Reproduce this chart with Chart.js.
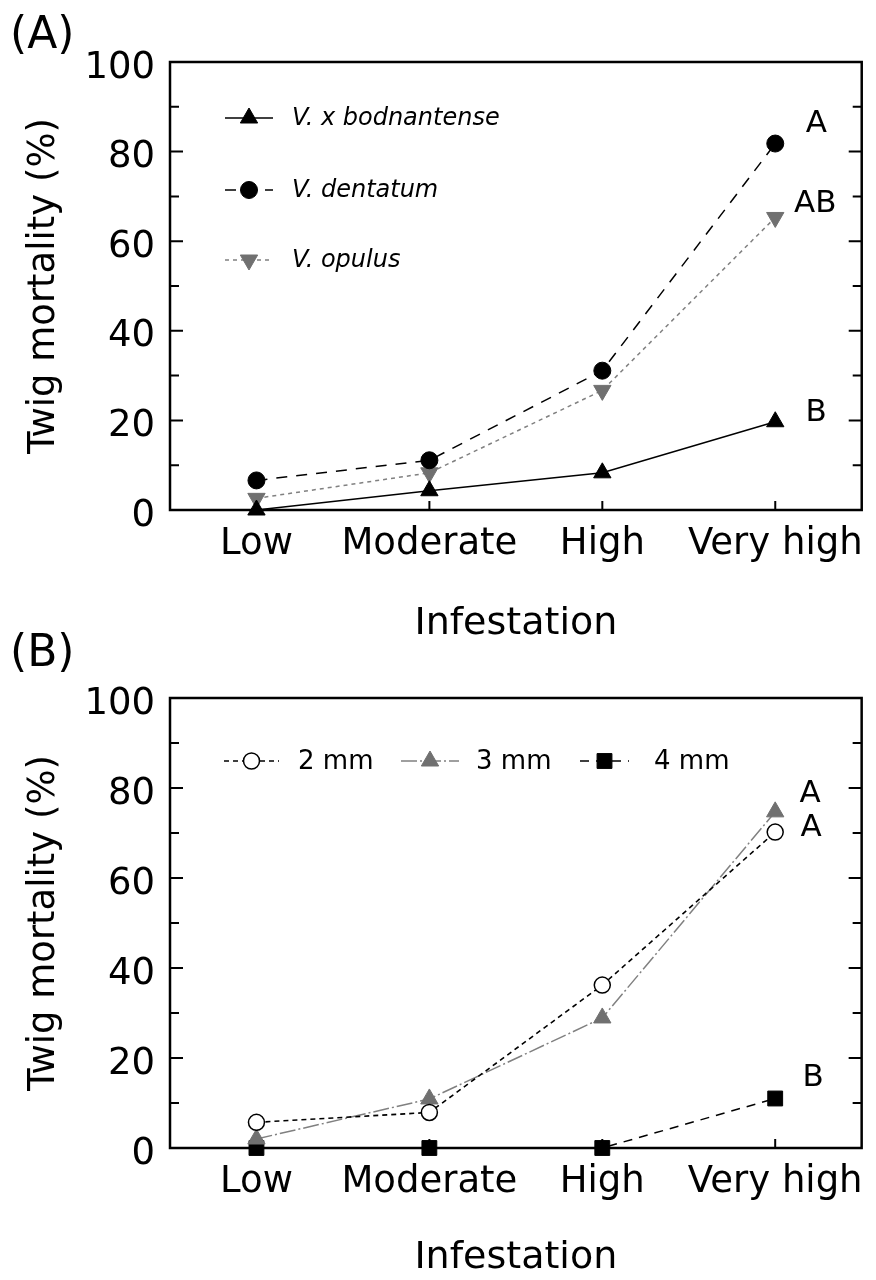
<!DOCTYPE html>
<html><head><meta charset="utf-8">
<script src="https://cdn.jsdelivr.net/npm/chart.js@4.4.1/dist/chart.umd.min.js"></script>
<style>
html,body{margin:0;padding:0;background:#fff;width:876px;height:1280px;overflow:hidden;}
.panel{position:absolute;left:0;width:876px;height:660px;}
#wrapA{top:0;}
#wrapB{top:620px;}
</style></head><body>
<div id="wrapA" class="panel"><canvas id="chartA" width="876" height="660"></canvas></div>
<div id="wrapB" class="panel"><canvas id="chartB" width="876" height="660"></canvas></div>
<script>
// ---- data ----
const categories = ['Low', 'Moderate', 'High', 'Very high'];
const yTickValues = [0, 20, 40, 60, 80, 100];
// Panel A: species
const bodnantense = [0, 4.3, 8.3, 19.7];
const dentatum = [6.6, 11.1, 31.1, 81.8];
const opulus = [2.6, 8.3, 26.7, 65.3];
const lettersA = ['B', 'A', 'AB'];
// Panel B: twig diameter
const mm2 = [5.7, 7.9, 36.2, 70.2];
const mm3 = [2.0, 10.9, 28.9, 74.7];
const mm4 = [0, 0, 0, 11.0];
const lettersB = ['A', 'A', 'B'];

const FONT = 'DejaVu Sans';
const BLACK = '#000000';
const GRAY = '#707070';
const GRAYLINE = '#808080';

function drawMarker(ctx, style, rot, r, x, y, fill, stroke, lw) {
  ctx.save();
  ctx.setLineDash([]);
  ctx.fillStyle = fill; ctx.strokeStyle = stroke; ctx.lineWidth = lw;
  if (Chart.helpers && Chart.helpers.drawPoint) {
    Chart.helpers.drawPoint(ctx, {pointStyle: style, rotation: rot, radius: r, borderWidth: lw}, x, y);
  } else {
    ctx.beginPath(); ctx.arc(x, y, r, 0, Math.PI * 2); ctx.fill(); ctx.stroke();
  }
  ctx.restore();
}

const decor = {
  id: 'decor',
  beforeDatasetsDraw(chart, args, o) {
    const ctx = chart.ctx, a = chart.chartArea;
    const ys = chart.scales.y, xs = chart.scales.x;
    ctx.save();
    ctx.strokeStyle = BLACK;
    ctx.lineWidth = 2.5;
    ctx.setLineDash([]);
    ctx.strokeRect(a.left, a.top, a.right - a.left, a.bottom - a.top);
    ctx.lineWidth = 2;
    for (let v = 0; v <= 100; v += 10) {
      const y = ys.getPixelForValue(v);
      const len = v % 20 === 0 ? 13 : 9;
      ctx.beginPath();
      ctx.moveTo(a.left, y); ctx.lineTo(a.left + len, y);
      ctx.moveTo(a.right, y); ctx.lineTo(a.right - len, y);
      ctx.stroke();
    }
    for (let i = 0; i < categories.length; i++) {
      const x = xs.getPixelForValue(i);
      ctx.beginPath();
      ctx.moveTo(x, a.bottom); ctx.lineTo(x, a.bottom - 9);
      ctx.stroke();
    }
    ctx.restore();
  },
  afterDatasetsDraw(chart, args, o) {
    const ctx = chart.ctx;
    ctx.save();
    // panel label
    ctx.fillStyle = BLACK;
    ctx.font = '44px ' + FONT;
    ctx.textAlign = 'left';
    ctx.textBaseline = 'alphabetic';
    ctx.fillText(o.panel, 10, o.panelY);
    // significance letters
    ctx.font = '31px ' + FONT;
    ctx.textAlign = 'center';
    ctx.textBaseline = 'middle';
    o.letters.forEach((t, i) => {
      const pt = chart.getDatasetMeta(i).data[3];
      const off = o.letterOffsets[i];
      ctx.fillText(t, pt.x + off[0], pt.y + off[1]);
    });
    // legend
    const L = o.legend;
    chart.data.datasets.forEach((ds, i) => {
      const it = L.items[i];
      ctx.save();
      ctx.strokeStyle = ds.borderColor;
      ctx.lineWidth = ds.borderWidth;
      ctx.setLineDash(ds.borderDash || []);
      ctx.beginPath();
      ctx.moveTo(it.x1, it.y); ctx.lineTo(it.x2, it.y);
      ctx.stroke();
      ctx.restore();
      drawMarker(ctx, ds.pointStyle, ds.pointRotation || 0, ds.pointRadius, (it.x1 + it.x2) / 2, it.y,
        ds.pointBackgroundColor, ds.pointBorderColor, ds.pointBorderWidth);
      ctx.fillStyle = BLACK;
      ctx.font = L.font;
      ctx.textAlign = 'left';
      ctx.textBaseline = 'middle';
      ctx.fillText(ds.label, it.tx, it.y + 1);
    });
    ctx.restore();
  }
};

function makeChart(id, datasets, top, bottom, titlePadBottom, deco) {
  const H = 660;
  return new Chart(document.getElementById(id), {
    type: 'line',
    data: { labels: categories, datasets: datasets },
    options: {
      responsive: false,
      devicePixelRatio: 1,
      animation: false,
      layout: { padding: { left: 0, right: 9, top: top, bottom: 0 } },
      plugins: { legend: { display: false }, tooltip: { enabled: false }, decor: deco },
      scales: {
        x: {
          type: 'category',
          offset: true,
          grid: { display: false, drawTicks: false },
          border: { display: false },
          ticks: { color: BLACK, padding: 12, font: { family: FONT, size: 37 }, maxRotation: 0, autoSkip: false },
          title: { display: true, text: 'Infestation', color: BLACK,
                   font: { family: FONT, size: 38, lineHeight: 1.1 }, padding: { top: 0, bottom: titlePadBottom } },
          afterFit(s) { s.height = H - bottom; }
        },
        y: {
          min: 0, max: 100,
          afterBuildTicks(s) { s.ticks = yTickValues.map(v => ({ value: v })); },
          grid: { display: false, drawTicks: false },
          border: { display: false },
          ticks: { color: BLACK, padding: 15, labelOffset: 6, font: { family: FONT, size: 37 } },
          title: { display: true, text: 'Twig mortality (%)', color: BLACK,
                   font: { family: FONT, size: 37, lineHeight: 1.1 }, padding: { top: 24, bottom: 0 } },
          afterFit(s) { s.width = 170; }
        }
      }
    },
    plugins: [decor]
  });
}

const common = { tension: 0, clip: false, fill: false };

makeChart('chartA', [
  Object.assign({}, common, {
    label: 'V. x bodnantense', data: bodnantense,
    borderColor: BLACK, borderWidth: 1.5, borderDash: [],
    pointStyle: 'triangle', pointRadius: 10, pointHoverRadius: 10,
    pointBackgroundColor: BLACK, pointBorderColor: BLACK, pointBorderWidth: 1
  }),
  Object.assign({}, common, {
    label: 'V. dentatum', data: dentatum,
    borderColor: BLACK, borderWidth: 1.5, borderDash: [11, 9],
    pointStyle: 'circle', pointRadius: 8.5, pointHoverRadius: 8.5,
    pointBackgroundColor: BLACK, pointBorderColor: BLACK, pointBorderWidth: 1
  }),
  Object.assign({}, common, {
    label: 'V. opulus', data: opulus,
    borderColor: GRAYLINE, borderWidth: 1.5, borderDash: [4, 4],
    pointStyle: 'triangle', pointRotation: 180, rotation: 180, pointRadius: 10, pointHoverRadius: 10,
    pointBackgroundColor: GRAY, pointBorderColor: GRAY, pointBorderWidth: 1
  })
], 62, 510, 15, {
  panel: '(A)', panelY: 48,
  letters: lettersA,
  letterOffsets: [[41, -9], [41, -20], [40, -14]],
  legend: {
    font: 'italic 24px ' + FONT,
    items: [
      { x1: 225, x2: 273, y: 118, tx: 292 },
      { x1: 225, x2: 273, y: 190, tx: 292 },
      { x1: 225, x2: 273, y: 260, tx: 292 }
    ]
  }
});

makeChart('chartB', [
  Object.assign({}, common, {
    label: '2 mm', data: mm2,
    borderColor: BLACK, borderWidth: 1.6, borderDash: [5, 4],
    pointStyle: 'circle', pointRadius: 8, pointHoverRadius: 8,
    pointBackgroundColor: '#ffffff', pointBorderColor: BLACK, pointBorderWidth: 1.5
  }),
  Object.assign({}, common, {
    label: '3 mm', data: mm3,
    borderColor: GRAYLINE, borderWidth: 1.5, borderDash: [16, 3, 2, 3],
    pointStyle: 'triangle', pointRadius: 10, pointHoverRadius: 10,
    pointBackgroundColor: GRAY, pointBorderColor: GRAY, pointBorderWidth: 1
  }),
  Object.assign({}, common, {
    label: '4 mm', data: mm4,
    borderColor: BLACK, borderWidth: 1.5, borderDash: [9, 7],
    pointStyle: 'rect', pointRadius: 10.5, pointHoverRadius: 10.5,
    pointBackgroundColor: BLACK, pointBorderColor: BLACK, pointBorderWidth: 1
  })
], 78, 528, 1, {
  panel: '(B)', panelY: 46,
  letters: lettersB,
  letterOffsets: [[36, -4], [35, -18], [38, -21]],
  legend: {
    font: '26px ' + FONT,
    items: [
      { x1: 224, x2: 279, y: 141, tx: 298 },
      { x1: 401, x2: 459, y: 141, tx: 476 },
      { x1: 580, x2: 629, y: 141, tx: 654 }
    ]
  }
});
</script>
</body></html>
